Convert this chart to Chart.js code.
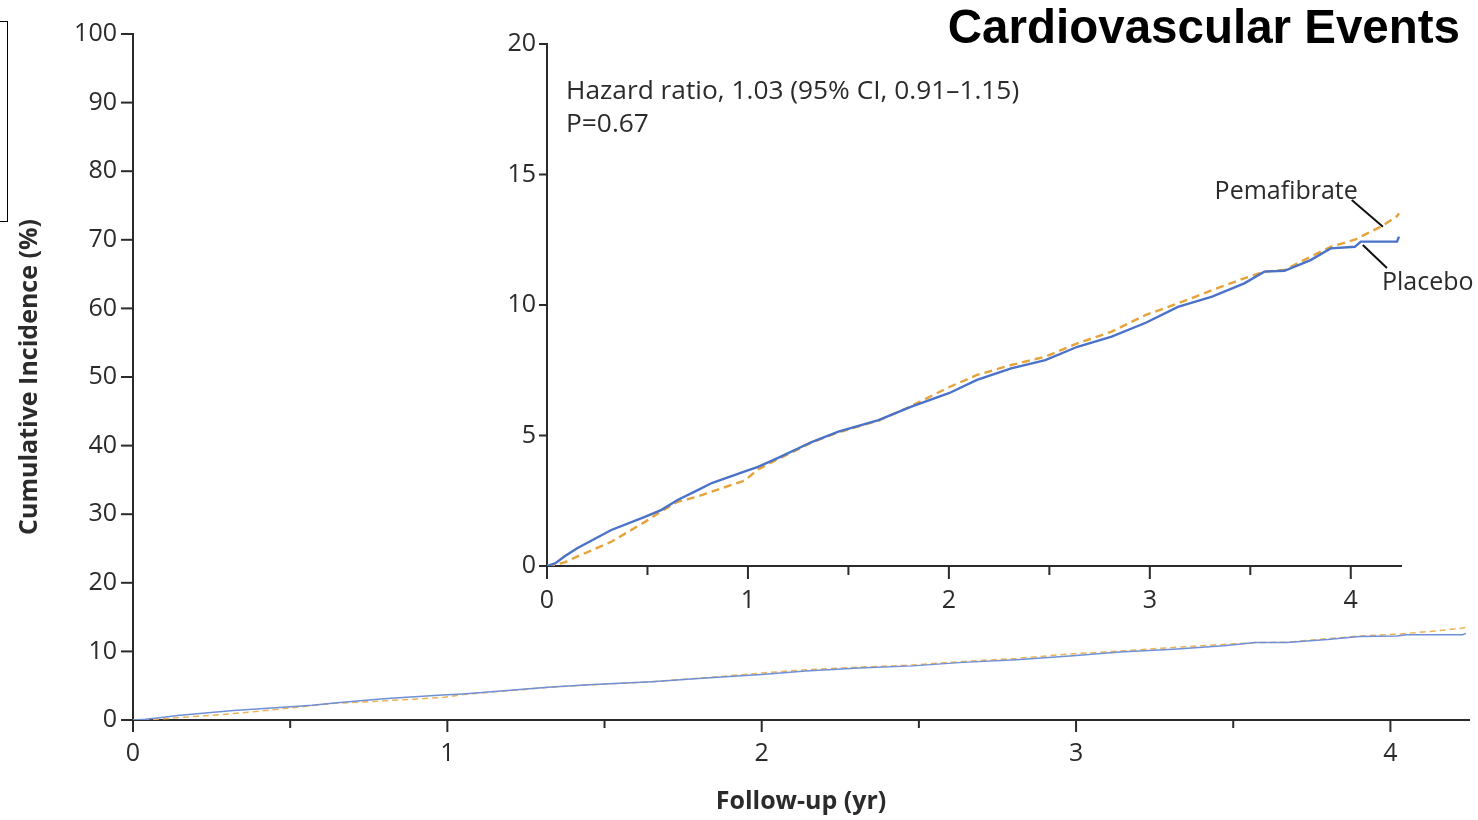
<!DOCTYPE html>
<html>
<head>
<meta charset="utf-8">
<script src="https://cdn.jsdelivr.net/npm/chart.js@4.4.1/dist/chart.umd.min.js"></script>
<style>
  html, body { margin: 0; padding: 0; background: #fff; }
  #wrap { position: relative; width: 1478px; height: 820px; overflow: hidden; }
  #mainChart { position: absolute; left: 0; top: 0; }
  #insetBox { position: absolute; left: 440px; top: 20px; width: 1038px; height: 610px; }
  #title { position: absolute; right: 18px; top: -1px; font: bold 47.5px "Liberation Sans", Arial, sans-serif; color: #000; white-space: nowrap; }
  #frame { position: absolute; left: -10px; top: 21px; width: 16px; height: 199px; border: 1.5px solid #000; }
</style>
</head>
<body>
<div id="wrap">
  <canvas id="mainChart" width="1478" height="820"></canvas>
  <div id="insetBox"><canvas id="insetChart" width="1038" height="610"></canvas></div>
  <div id="frame"></div>
  <div id="title">Cardiovascular Events</div>
</div>
<script>
// --- DATA ---
const followUpYears = [0, 0.04, 0.09, 0.15, 0.32, 0.49, 0.57, 0.65, 0.75, 0.82,
  0.985, 1.05, 1.15, 1.32, 1.45, 1.65, 1.81, 2.0, 2.14, 2.31,
  2.48, 2.64, 2.81, 2.98, 3.14, 3.31, 3.47, 3.57, 3.67, 3.80,
  3.90, 4.02, 4.05, 4.15, 4.23, 4.24];
const placeboPct = [0, 0.1, 0.38, 0.68, 1.38, 1.89, 2.15, 2.53, 2.91, 3.18,
  3.63, 3.8, 4.14, 4.76, 5.15, 5.59, 6.10, 6.62, 7.13, 7.57,
  7.89, 8.40, 8.79, 9.32, 9.93, 10.32, 10.83, 11.28, 11.31, 11.72,
  12.17, 12.23, 12.43, 12.43, 12.43, 12.62];
const pemafibratePct = [0, 0.04, 0.15, 0.36, 0.93, 1.70, 2.10, 2.46, 2.66, 2.85,
  3.28, 3.70, 4.10, 4.74, 5.12, 5.57, 6.12, 6.85, 7.32, 7.70,
  8.02, 8.53, 8.98, 9.62, 10.06, 10.57, 11.02, 11.28, 11.34, 11.85,
  12.23, 12.50, 12.62, 13.00, 13.40, 13.51];
const xMaxYears = 4.25;
const mainYMax = 100, mainYStep = 10;
const insetYMax = 20, insetYStep = 5;
const hazardText = ['Hazard ratio, 1.03 (95% CI, 0.91\u20131.15)', 'P=0.67'];

const FONT = '"Open Sans", "Noto Sans", sans-serif';
const INK = '#2b2b2b';
const BLUE = '#4a72c8';
const ORANGE = '#e6a33a';

const pts = (ys) => followUpYears.map((t, i) => ({ x: t, y: ys[i] }));

// tick marks: integer years long, half years short
const tickMarks = {
  id: 'tickMarks',
  afterDraw(chart, args, o) {
    const ctx = chart.ctx;
    const { x, y } = chart.scales;
    ctx.save();
    ctx.strokeStyle = INK;
    ctx.lineWidth = o.width;
    x.ticks.forEach(t => {
      const px = x.getPixelForValue(t.value);
      const len = Number.isInteger(t.value) ? o.xMajor : o.xMinor;
      ctx.beginPath(); ctx.moveTo(px, x.top); ctx.lineTo(px, x.top + len); ctx.stroke();
    });
    y.ticks.forEach(t => {
      const py = y.getPixelForValue(t.value);
      ctx.beginPath(); ctx.moveTo(y.right, py); ctx.lineTo(y.right - o.yLen, py); ctx.stroke();
    });
    ctx.restore();
  }
};

// inset texts: hazard ratio + curve labels with leader lines
const insetNotes = {
  id: 'insetNotes',
  afterDraw(chart) {
    const ctx = chart.ctx;
    const { x, y } = chart.scales;
    const a = chart.chartArea;
    ctx.save();
    ctx.fillStyle = INK;
    ctx.textBaseline = 'middle';
    ctx.textAlign = 'left';
    ctx.font = '26.3px ' + FONT;
    ctx.fillText(hazardText[0], a.left + 19, a.top + 48);
    ctx.fillText(hazardText[1], a.left + 19, a.top + 81);

    ctx.font = '25px ' + FONT;
    ctx.textAlign = 'right';
    ctx.fillText('Pemafibrate', x.getPixelForValue(4.035), y.getPixelForValue(14.33));
    ctx.textAlign = 'left';
    ctx.fillText('Placebo', x.getPixelForValue(4.155), y.getPixelForValue(10.84));

    ctx.strokeStyle = '#111';
    ctx.lineWidth = 2;
    ctx.beginPath();
    ctx.moveTo(x.getPixelForValue(4.005), y.getPixelForValue(14.02));
    ctx.lineTo(x.getPixelForValue(4.16), y.getPixelForValue(13.0));
    ctx.moveTo(x.getPixelForValue(4.06), y.getPixelForValue(12.3));
    ctx.lineTo(x.getPixelForValue(4.18), y.getPixelForValue(11.42));
    ctx.stroke();
    ctx.restore();
  }
};

function makeChart(canvasId, cfg) {
  return new Chart(document.getElementById(canvasId), {
    type: 'line',
    data: {
      datasets: [
        { label: 'Placebo', data: pts(placeboPct), borderColor: cfg.blue, borderWidth: cfg.lw,
          pointRadius: 0, tension: 0, fill: false },
        { label: 'Pemafibrate', data: pts(pemafibratePct), borderColor: cfg.orange, borderWidth: cfg.lw,
          borderDash: cfg.dash, pointRadius: 0, tension: 0, fill: false }
      ]
    },
    options: {
      responsive: false,
      animation: false,
      layout: { padding: cfg.pad },
      plugins: {
        legend: { display: false },
        tooltip: { enabled: false },
        tickMarks: cfg.ticks
      },
      scales: {
        x: {
          type: 'linear', min: 0, max: xMaxYears,
          afterFit: (s) => { s.height = cfg.xH; },
          border: { display: true, color: INK, width: 2 },
          grid: { drawOnChartArea: false, drawTicks: true, tickLength: cfg.ticks.xMajor, color: 'rgba(0,0,0,0)' },
          ticks: {
            stepSize: 0.5, includeBounds: false, padding: cfg.xPad, color: INK,
            font: { family: FONT, size: 25 }, maxRotation: 0, autoSkip: false,
            callback: (v) => Number.isInteger(v) ? String(v) : ''
          },
          title: cfg.xTitle
        },
        y: {
          min: 0, max: cfg.yMax,
          afterFit: (s) => { s.width = cfg.yW; },
          border: { display: true, color: INK, width: 2 },
          grid: { drawOnChartArea: false, drawTicks: true, tickLength: cfg.ticks.yLen, color: 'rgba(0,0,0,0)' },
          ticks: { stepSize: cfg.yStep, padding: cfg.yPad, color: INK, font: { family: FONT, size: 25 } },
          title: cfg.yTitle
        }
      }
    },
    plugins: cfg.extra
  });
}

makeChart('mainChart', {
  blue: '#6f8fd6', orange: '#ebb455', lw: 1.5, dash: [6, 4],
  pad: { top: 34, right: 9, bottom: 0, left: 0 },
  xH: 100, yW: 133, xPad: 7, yPad: 4,
  yMax: mainYMax, yStep: mainYStep,
  ticks: { width: 2, xMajor: 12, xMinor: 8, yLen: 12 },
  xTitle: { display: true, text: 'Follow-up (yr)', color: INK, padding: { top: 0, bottom: 3 },
            font: { family: FONT, size: 25, weight: 'bold' } },
  yTitle: { display: true, text: 'Cumulative Incidence (%)', color: INK, padding: { top: 15, bottom: 0 },
            font: { family: FONT, size: 25, weight: 'bold' } },
  extra: [tickMarks]
});

makeChart('insetChart', {
  blue: BLUE, orange: ORANGE, lw: 2.4, dash: [8, 5],
  pad: { top: 24, right: 77, bottom: 0, left: 0 },
  xH: 64, yW: 107, xPad: 7, yPad: 3,
  yMax: insetYMax, yStep: insetYStep,
  ticks: { width: 2, xMajor: 13, xMinor: 9, yLen: 8 },
  xTitle: { display: false },
  yTitle: { display: false },
  extra: [tickMarks, insetNotes]
});
</script>
</body>
</html>
